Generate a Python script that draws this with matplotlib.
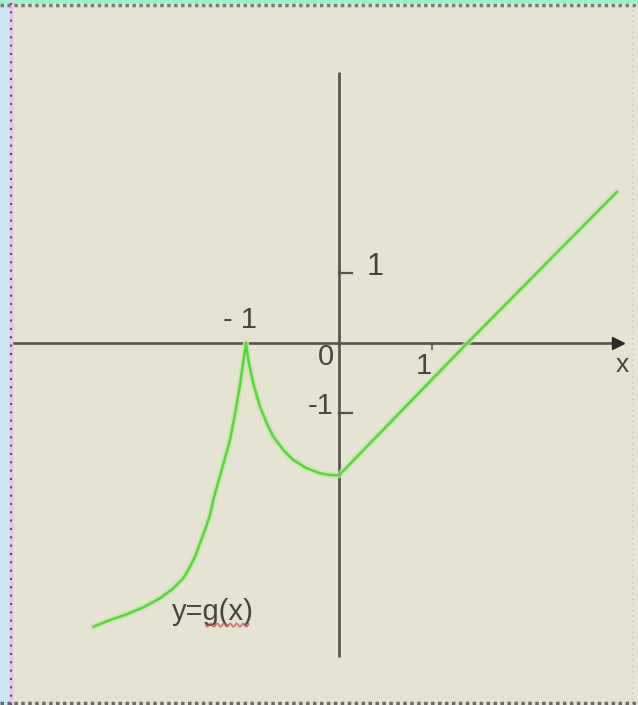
import matplotlib.pyplot as plt
from matplotlib.lines import Line2D
import numpy as np

# g(x): left branch rising to the cusp at (-1, 0)
left_x = [-2.642, -2.462, -2.283, -2.104, -1.925, -1.782, -1.674, -1.602,
          -1.548, -1.495, -1.441, -1.387, -1.352, -1.323, -1.28, -1.226,
          -1.172, -1.118, -1.065, -1.0]
left_y = [-4.053, -3.957, -3.876, -3.776, -3.647, -3.504, -3.361, -3.196,
          -3.053, -2.861, -2.671, -2.457, -2.243, -2.1, -1.9, -1.643,
          -1.386, -1.014, -0.6, 0.0]
# right branch: dips to the minimum at x=0, then a straight line
right_x = [-1.0, -0.975, -0.922, -0.849, -0.777, -0.706, -0.599, -0.491,
           -0.347, -0.204, -0.097, 0.0, 1.38, 2.99]
right_y = [0.0, -0.243, -0.576, -0.91, -1.147, -1.339, -1.529, -1.671,
           -1.79, -1.861, -1.886, -1.89, 0.0, 2.16]

xticks = [-1, 1]
yticks = [-1, 1]

bg = '#e5e4d2'
axc = '#55524a'
green = '#5cd43c'
txtc = '#46463f'

fig = plt.figure(figsize=(6.38, 7.05), dpi=100, facecolor=bg)
ax = fig.add_axes([0, 0, 1, 1])
ax.set_facecolor(bg)
# 93 px per unit in x, 70 px per unit in y, origin at (339, 343) px
ax.set_xlim((0 - 339) / 93, (638 - 339) / 93)
ax.set_ylim((343 - 705) / 70, 343 / 70)
ax.axis('off')

# axes lines
ax.plot([-3.54, 3.0], [0, 0], color=axc, lw=1.9, solid_capstyle='butt', zorder=2)
ax.plot([3.0], [0], marker='>', color='#2a2a26', ms=8, zorder=3)
ax.plot([0, 0], [3.87, -4.49], color=axc, lw=1.9, solid_capstyle='butt', zorder=2)

# tick marks
for t in yticks:
    ax.plot([0, 0.14], [t, t], color=axc, lw=1.6, zorder=2)
for t in xticks:
    ax.plot([t, t], [0, -0.09], color=axc, lw=1.2, zorder=2)

# curve with soft halo
for xs, ys in [(left_x, left_y), (right_x, right_y)]:
    ax.plot(xs, ys, color='#bdeaa8', lw=4.5, alpha=0.7, zorder=4,
            solid_joinstyle='round', solid_capstyle='round')
    ax.plot(xs, ys, color=green, lw=1.8, zorder=5,
            solid_joinstyle='round', solid_capstyle='round')

font = dict(family=['Liberation Sans', 'DejaVu Sans'], color=txtc)
ax.text(0.39, 1.09, '1', fontsize=22, ha='center', va='center', **font)
ax.text(-1.06, 0.33, '- 1', fontsize=21, ha='center', va='center', **font)
ax.text(-0.14, -0.2, '0', fontsize=21, ha='center', va='center', **font)
ax.text(0.91, -0.33, '1', fontsize=21, ha='center', va='center', **font)
ax.text(-0.2, -0.9, '-1', fontsize=21, ha='center', va='center', **font)
ax.text(3.05, -0.31, 'x', fontsize=19, ha='center', va='center', **font)
ax.text(-1.36, -3.84, 'y=g(x)', fontsize=21, ha='center', va='center', **font)

# red squiggle under "g(x"
sx = np.linspace(-1.43, -0.97, 40)
ax.plot(sx, -4.03 + 0.025 * np.sin(sx * 90), color='#d85050', lw=1.2, alpha=0.8, zorder=6)

# window border: blue strip + dotted edges
fig.add_artist(plt.Rectangle((0, 0), 9 / 638, 1, transform=fig.transFigure,
                             color='#cde6f4', zorder=0))
fig.add_artist(Line2D([10.5 / 638] * 2, [0, 1], transform=fig.transFigure,
                      color='#e8c4f0', lw=2.5))
fig.add_artist(Line2D([11 / 638] * 2, [0, 1], transform=fig.transFigure,
                      color='#5a4a66', lw=1.5, ls=(0, (1, 3))))
fig.add_artist(plt.Rectangle((0, 1 - 2 / 705), 1, 2 / 705, transform=fig.transFigure,
                             color='#9ef2c8', zorder=0))
fig.add_artist(Line2D([0, 1], [1 - 4.5 / 705] * 2, transform=fig.transFigure,
                      color='#7a7a78', lw=2.5, ls=(0, (1, 1))))
fig.add_artist(Line2D([0, 1], [2.5 / 705] * 2, transform=fig.transFigure,
                      color='#6a6a68', lw=2.5, ls=(0, (1, 1))))
fig.add_artist(Line2D([632 / 638] * 2, [0, 1], transform=fig.transFigure,
                      color='#c8c8c0', lw=1, ls=(0, (1, 3))))

fig.savefig('out.png', dpi=100, facecolor=bg)
